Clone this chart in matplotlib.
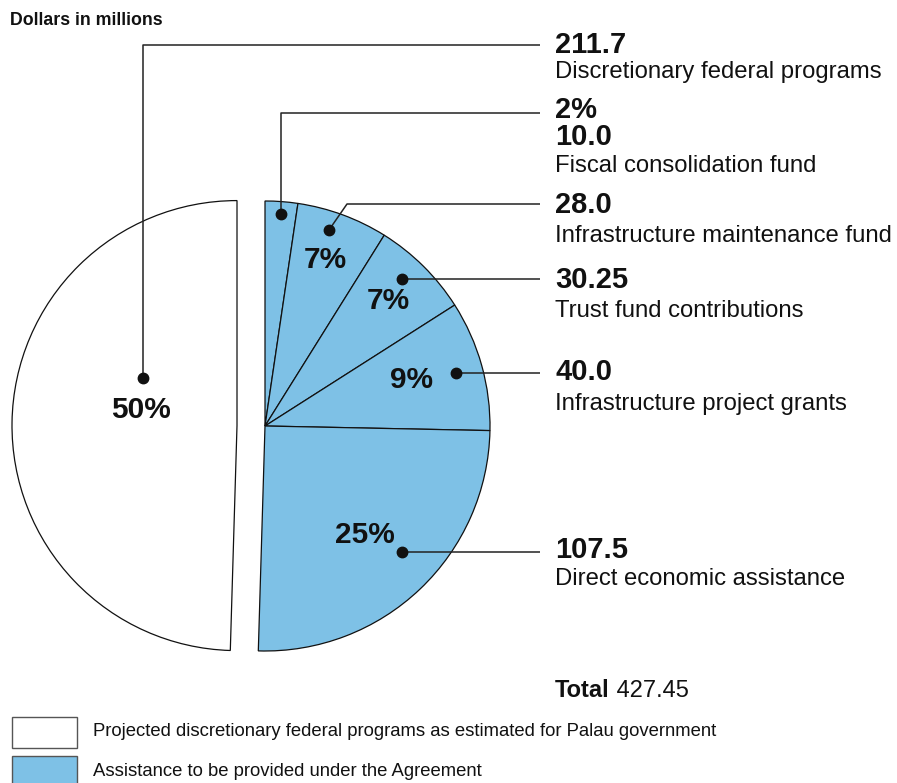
import matplotlib.pyplot as plt
from matplotlib.patches import Rectangle

plt.rcParams['font.family'] = ['Liberation Sans', 'DejaVu Sans']

# data
categories = ['Discretionary federal programs', 'Fiscal consolidation fund',
              'Infrastructure maintenance fund', 'Trust fund contributions',
              'Infrastructure project grants', 'Direct economic assistance']
amounts = [211.7, 10.0, 28.0, 30.25, 40.0, 107.5]
amount_labels = ['211.7', '10.0', '28.0', '30.25', '40.0', '107.5']
total_label = '427.45'
legend_labels = ['Projected discretionary federal programs as estimated for Palau government',
                 'Assistance to be provided under the Agreement']

white = '#ffffff'
blue = '#7ec1e6'
colors = [white, blue, blue, blue, blue, blue]
ink = '#111111'

W, H = 897, 783
Y = lambda y: H - y  # pixel row -> data y

fig = plt.figure(figsize=(W / 100, H / 100), dpi=100)
ax = fig.add_axes([0, 0, 1, 1])

total = sum(amounts)
start = 90 + 360 * amounts[0] / total
# explode is in data units here (radius is in pixels)
ax.pie(amounts, colors=colors, startangle=start, counterclock=False,
       explode=[28, 0, 0, 0, 0, 0], radius=225, center=(265, Y(426)),
       wedgeprops=dict(edgecolor=ink, linewidth=0.9))
ax.set_xlim(0, W)
ax.set_ylim(0, H)
ax.set_aspect('equal')
ax.axis('off')

pcts = ['%d%%' % round(100 * a / total) for a in amounts]

# percent labels inside wedges (index 1 is written on the right)
pct_pos = {0: (141, 410), 2: (325, 260), 3: (388, 301), 4: (411, 380), 5: (365, 535)}
for i, (px, py) in pct_pos.items():
    ax.text(px, Y(py), pcts[i], fontsize=21.5, fontweight='bold', ha='center', va='center',
            color=ink)

# leader lines
leaders = [
    [(143, 378), (143, 45), (540, 45)],
    [(281, 214), (281, 113), (540, 113)],
    [(329, 230), (347, 204), (540, 204)],
    [(402, 279), (540, 279)],
    [(456, 373), (540, 373)],
    [(402, 552), (540, 552)],
]
for path in leaders:
    xs = [p[0] for p in path]
    ys = [Y(p[1]) for p in path]
    ax.plot(xs, ys, color='#222222', lw=1.1, solid_capstyle='butt')
    ax.plot(xs[0], ys[0], 'o', color=ink, ms=7.5)

# right-hand text blocks: (number baseline, description baseline)
tx = 555
num_base = [53, 145, 213, 288, 380, 558]
desc_base = [78, 172, 242, 317, 410, 585]
for i in range(len(amounts)):
    ax.text(tx, Y(num_base[i]), amount_labels[i], fontsize=21, fontweight='bold',
            va='baseline', ha='left', color=ink)
    ax.text(tx, Y(desc_base[i]), categories[i], fontsize=17.2, va='baseline', ha='left',
            color=ink)
ax.text(tx, Y(118), pcts[1], fontsize=21, fontweight='bold', va='baseline', ha='left',
        color=ink)

# total
t = ax.text(tx, Y(697), 'Total', fontsize=17, fontweight='bold', va='baseline',
            ha='left', color=ink)
ax.annotate(' ' + total_label, xycoords=t, xy=(1, 0), fontsize=17, va='bottom',
            ha='left', color=ink)

# title
ax.text(10, Y(25), 'Dollars in millions', fontsize=12.8, fontweight='bold', va='baseline',
        ha='left', color=ink)

# legend
for k, (lab, col) in enumerate(zip(legend_labels, [white, blue])):
    top = 717 + k * 39
    ax.add_patch(Rectangle((12, Y(top + 31)), 65, 31, facecolor=col,
                           edgecolor='#555555', lw=1.0, clip_on=False))
    ax.text(93, Y(top + 15), lab, fontsize=13.3, va='center', ha='left', color=ink)

fig.savefig('out.png', dpi=100)
